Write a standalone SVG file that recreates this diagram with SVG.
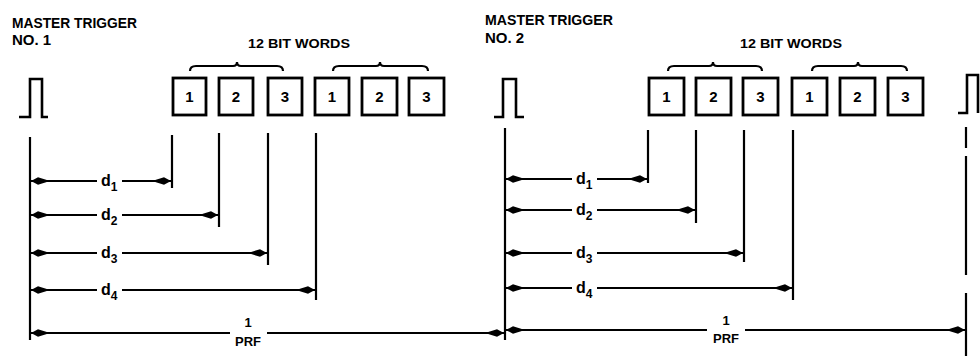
<svg xmlns="http://www.w3.org/2000/svg" width="980" height="356" viewBox="0 0 980 356">
<style>
.ln{stroke:#000;stroke-width:2.2;fill:none;stroke-linecap:butt}
.bx{stroke:#000;stroke-width:2.8;fill:#fff}
.pl{stroke:#000;stroke-width:2.6;fill:none}
.br{stroke:#000;stroke-width:2.2;fill:none}
.dm{stroke:#000;stroke-width:2;fill:none;marker-end:url(#ah)}
.dms{stroke:#000;stroke-width:2;fill:none;marker-start:url(#ahs)}
text{font-family:"Liberation Sans",Arial,sans-serif;font-weight:bold;fill:#000}
.t{font-size:15px}
.w{font-size:13px}
.n{font-size:15px;text-anchor:middle}
.d{font-size:16px}
.s{font-size:12px}
.f{font-size:13px;text-anchor:middle}
</style>
<defs>
<marker id="ah" markerUnits="userSpaceOnUse" viewBox="-21 -5 22 10" refX="0" refY="0" markerWidth="22" markerHeight="10" orient="auto">
<path d="M0,0 L-7,-3.8 L-19,0 L-7,3.8 Z" fill="#000"/>
</marker>
<marker id="ahs" markerUnits="userSpaceOnUse" viewBox="-1 -5 22 10" refX="0" refY="0" markerWidth="22" markerHeight="10" orient="auto">
<path d="M0,0 L7,-3.8 L19,0 L7,3.8 Z" fill="#000"/>
</marker>
</defs>

<g id="label-trigger-1">
<text class="t" x="12" y="28" textLength="125" lengthAdjust="spacingAndGlyphs">MASTER TRIGGER</text>
<text class="t" x="12" y="45">NO. 1</text>
</g>
<g id="label-words-1"><text class="w" x="248" y="48" textLength="102" lengthAdjust="spacingAndGlyphs">12 BIT WORDS</text></g>
<g id="label-trigger-2">
<text class="t" x="485" y="25" textLength="128" lengthAdjust="spacingAndGlyphs">MASTER TRIGGER</text>
<text class="t" x="485" y="43">NO. 2</text>
</g>
<g id="label-words-2"><text class="w" x="740" y="48" textLength="102" lengthAdjust="spacingAndGlyphs">12 BIT WORDS</text></g>

<g id="braces">
<path class="br" d="M190,71 Q190,66 196,66 L233,66 Q237,66 237,62 Q237,66 241,66 L277,66 Q283,66 283,71"/>
<path class="br" d="M333,71 Q333,66 339,66 L376,66 Q380,66 380,62 Q380,66 384,66 L422,66 Q428,66 428,71"/>
<path class="br" d="M668,71 Q668,66 674,66 L709,66 Q713,66 713,62 Q713,66 717,66 L756,66 Q762,66 762,71"/>
<path class="br" d="M812,71 Q812,66 818,66 L854,66 Q858,66 858,62 Q858,66 862,66 L901,66 Q907,66 907,71"/>
</g>

<g id="pulse-1"><path class="pl" d="M19,117 H30 V79 H42 V117 H48"/></g>
<g id="pulse-2"><path class="pl" d="M494,117 H503 V79 H516 V117 H524"/></g>
<g id="pulse-3"><path class="pl" d="M958,113 H967 V75 H978 V113"/></g>

<g id="words-1">
<g id="w1-1"><rect class="bx" x="173" y="78" width="33" height="37"/><text class="n" x="189.5" y="102">1</text></g>
<g id="w1-2"><rect class="bx" x="219" y="78" width="34" height="37"/><text class="n" x="236" y="102">2</text></g>
<g id="w1-3"><rect class="bx" x="268" y="78" width="34" height="37"/><text class="n" x="285" y="102">3</text></g>
<g id="w1-4"><rect class="bx" x="315" y="78" width="34" height="37"/><text class="n" x="332" y="102">1</text></g>
<g id="w1-5"><rect class="bx" x="362" y="78" width="35" height="37"/><text class="n" x="379.5" y="102">2</text></g>
<g id="w1-6"><rect class="bx" x="409" y="78" width="35" height="37"/><text class="n" x="426.5" y="102">3</text></g>
</g>
<g id="words-2">
<g id="w2-1"><rect class="bx" x="649" y="78" width="35" height="37"/><text class="n" x="666.5" y="102">1</text></g>
<g id="w2-2"><rect class="bx" x="696" y="78" width="35" height="37"/><text class="n" x="713.5" y="102">2</text></g>
<g id="w2-3"><rect class="bx" x="743" y="78" width="35" height="37"/><text class="n" x="760.5" y="102">3</text></g>
<g id="w2-4"><rect class="bx" x="792" y="78" width="35" height="37"/><text class="n" x="809.5" y="102">1</text></g>
<g id="w2-5"><rect class="bx" x="840" y="78" width="35" height="37"/><text class="n" x="857.5" y="102">2</text></g>
<g id="w2-6"><rect class="bx" x="888" y="78" width="35" height="37"/><text class="n" x="905.5" y="102">3</text></g>
</g>

<g id="connectors">
<path class="ln" d="M30,137 V340 M172,135 V188 M219,133 V227 M268,133 V265 M316,133 V300"/>
<path class="ln" d="M505,128 V340 M648,130 V183 M696,130 V223 M744,130 V262 M793,130 V300"/>
<path class="ln" d="M966,127 V148 M966,156 V275 M966,293 V356"/>

<path class="dms" d="M31,181 H97"/><path class="dm" d="M122,181 H171"/>
<path class="dms" d="M31,215 H97"/><path class="dm" d="M122,215 H218"/>
<path class="dms" d="M31,253 H97"/><path class="dm" d="M122,253 H267"/>
<path class="dms" d="M31,290 H97"/><path class="dm" d="M122,290 H315"/>
<path class="dms" d="M31,333 H230"/><path class="dm" d="M267,333 H504"/>

<path class="dms" d="M506,179 H572"/><path class="dm" d="M597,179 H647"/>
<path class="dms" d="M506,210 H572"/><path class="dm" d="M597,210 H695"/>
<path class="dms" d="M506,253 H572"/><path class="dm" d="M597,253 H743"/>
<path class="dms" d="M506,288 H572"/><path class="dm" d="M597,288 H792"/>
<path class="dms" d="M506,330 H707"/><path class="dm" d="M745,330 H965"/>
</g>

<g id="dim-labels-1">
<text class="d" x="101" y="186">d<tspan class="s" dy="5">1</tspan></text>
<text class="d" x="101" y="220">d<tspan class="s" dy="5">2</tspan></text>
<text class="d" x="101" y="258">d<tspan class="s" dy="5">3</tspan></text>
<text class="d" x="101" y="295">d<tspan class="s" dy="5">4</tspan></text>
<text class="f" x="248" y="327">1</text>
<text class="f" x="248" y="346" font-size="11">PRF</text>
</g>
<g id="dim-labels-2">
<text class="d" x="576" y="184">d<tspan class="s" dy="5">1</tspan></text>
<text class="d" x="576" y="215">d<tspan class="s" dy="5">2</tspan></text>
<text class="d" x="576" y="258">d<tspan class="s" dy="5">3</tspan></text>
<text class="d" x="576" y="293">d<tspan class="s" dy="5">4</tspan></text>
<text class="f" x="726" y="325">1</text>
<text class="f" x="726" y="343" font-size="11">PRF</text>
</g>
</svg>
